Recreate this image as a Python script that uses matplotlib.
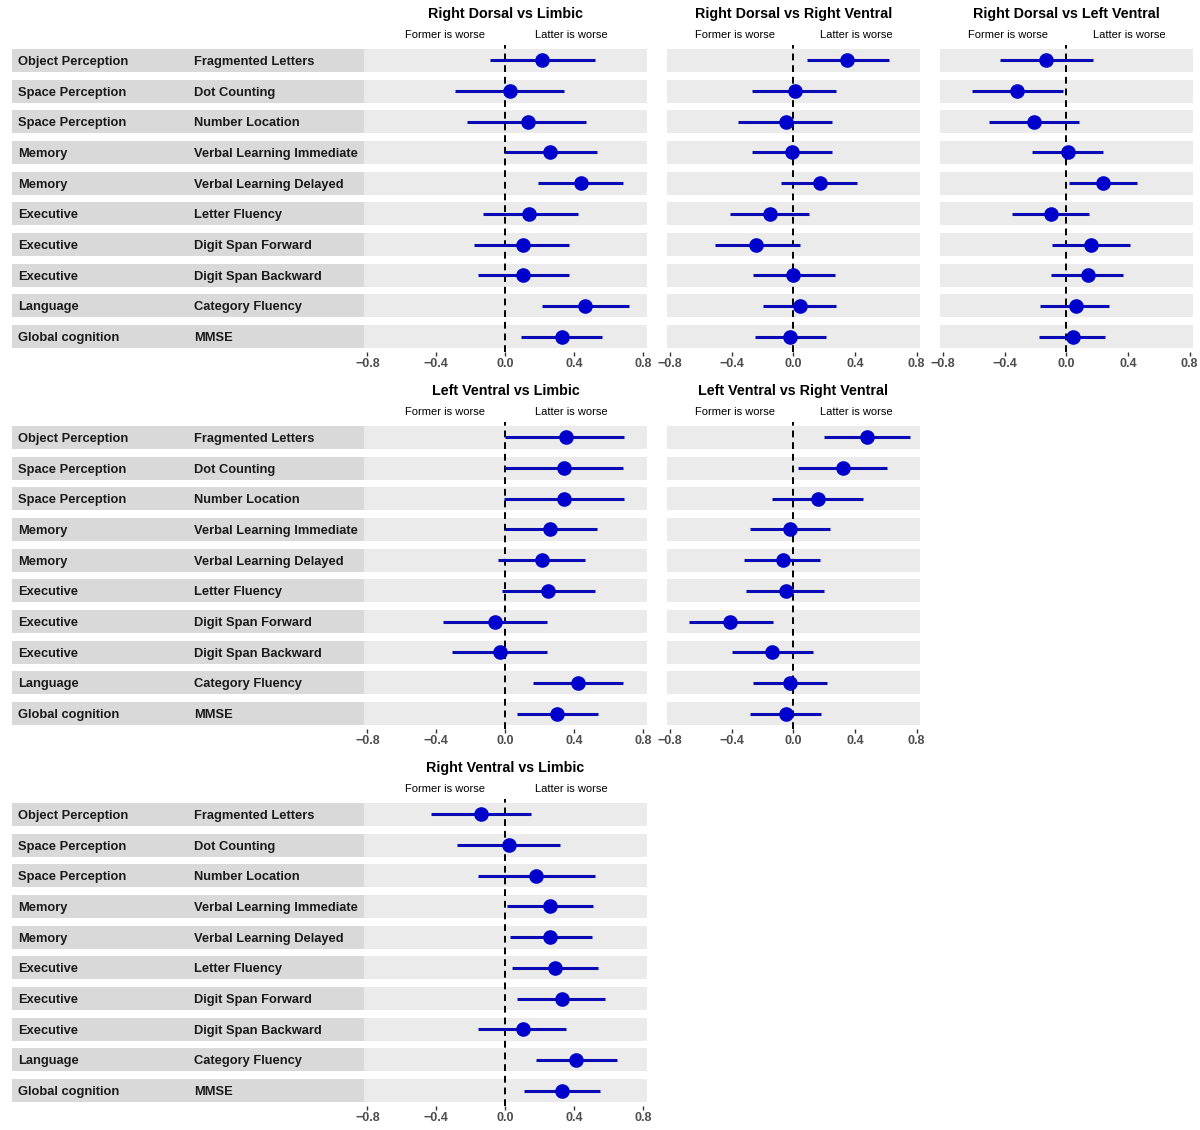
import matplotlib
matplotlib.use("Agg")
import matplotlib.pyplot as plt

plt.rcParams['font.family'] = ['Liberation Sans', 'DejaVu Sans']

# test rows, top to bottom
domains = ["Object Perception", "Space Perception", "Space Perception", "Memory",
           "Memory", "Executive", "Executive", "Executive", "Language",
           "Global cognition"]
tests = ["Fragmented Letters", "Dot Counting", "Number Location",
         "Verbal Learning Immediate", "Verbal Learning Delayed", "Letter Fluency",
         "Digit Span Forward", "Digit Span Backward", "Category Fluency", "MMSE"]

# estimates with lower / upper interval, one list per comparison
rd_limbic = [0.21, 0.03, 0.13, 0.26, 0.44, 0.14, 0.10, 0.10, 0.46, 0.33]
rd_limbic_lo = [-0.09, -0.29, -0.22, 0.00, 0.19, -0.13, -0.18, -0.16, 0.21, 0.09]
rd_limbic_hi = [0.52, 0.34, 0.47, 0.53, 0.68, 0.42, 0.37, 0.37, 0.72, 0.56]

rd_rv = [0.35, 0.01, -0.05, -0.01, 0.17, -0.15, -0.24, 0.00, 0.04, -0.02]
rd_rv_lo = [0.09, -0.27, -0.36, -0.27, -0.08, -0.41, -0.51, -0.26, -0.20, -0.25]
rd_rv_hi = [0.62, 0.28, 0.25, 0.25, 0.41, 0.10, 0.04, 0.27, 0.28, 0.21]

rd_lv = [-0.13, -0.32, -0.21, 0.01, 0.24, -0.10, 0.16, 0.14, 0.06, 0.04]
rd_lv_lo = [-0.43, -0.61, -0.50, -0.22, 0.02, -0.35, -0.09, -0.10, -0.17, -0.18]
rd_lv_hi = [0.17, -0.02, 0.08, 0.24, 0.46, 0.15, 0.41, 0.37, 0.28, 0.25]

lv_limbic = [0.35, 0.34, 0.34, 0.26, 0.21, 0.25, -0.06, -0.03, 0.42, 0.30]
lv_limbic_lo = [0.00, 0.00, -0.01, 0.00, -0.04, -0.02, -0.36, -0.31, 0.16, 0.07]
lv_limbic_hi = [0.69, 0.68, 0.69, 0.53, 0.46, 0.52, 0.24, 0.24, 0.68, 0.54]

lv_rv = [0.48, 0.32, 0.16, -0.02, -0.07, -0.05, -0.41, -0.14, -0.02, -0.05]
lv_rv_lo = [0.20, 0.03, -0.14, -0.28, -0.32, -0.31, -0.68, -0.40, -0.26, -0.28]
lv_rv_hi = [0.76, 0.61, 0.45, 0.24, 0.17, 0.20, -0.13, 0.13, 0.22, 0.18]

rv_limbic = [-0.14, 0.02, 0.18, 0.26, 0.26, 0.29, 0.33, 0.10, 0.41, 0.33]
rv_limbic_lo = [-0.43, -0.28, -0.16, 0.01, 0.03, 0.04, 0.07, -0.16, 0.18, 0.11]
rv_limbic_hi = [0.15, 0.32, 0.52, 0.51, 0.50, 0.54, 0.58, 0.35, 0.65, 0.55]

xticks = [-0.8, -0.4, 0.0, 0.4, 0.8]
xtick_labels = ["\u22120.8", "\u22120.4", "0.0", "0.4", "0.8"]

W, H = 1200, 1130
fig = plt.figure(figsize=(W / 100, H / 100), dpi=100)


def px_axes(left, top, right, bottom):
    return fig.add_axes([left / W, 1 - bottom / H, (right - left) / W, (bottom - top) / H])


def label_panel(top, bottom):
    ax = px_axes(12, top, 364, bottom)
    ax.set_xlim(0, 1)
    ax.set_ylim(len(tests) - 0.5, -0.5)
    for i in range(len(tests)):
        ax.axhspan(i - 0.375, i + 0.375, color="#d9d9d9", lw=0)
        ax.text(6 / 352, i, domains[i], fontsize=9.3, fontweight="bold",
                color="#1a1a1a", va="center_baseline", ha="left")
        ax.text(182 / 352, i, tests[i], fontsize=9.3, fontweight="bold",
                color="#1a1a1a", va="center_baseline", ha="left")
    ax.axis("off")


def forest_panel(left, right, top, bottom, title, est, lo, hi):
    ax = px_axes(left, top, right, bottom)
    ax.set_xlim(-0.82, 0.822)
    ax.set_ylim(len(tests) - 0.5, -0.5)
    for i in range(len(tests)):
        ax.axhspan(i - 0.375, i + 0.375, color="#ebebeb", lw=0, zorder=0)
    ax.axvline(0, color="black", lw=1.4, ls=(0, (3.5, 2.5)), zorder=1)
    ypos = list(range(len(tests)))
    ax.hlines(ypos, lo, hi, color="#0a0ab4", lw=2.2, zorder=2)
    ax.plot(est, ypos, "o", color="#0000cd", ms=9.5, mec="#0000cd", zorder=3)
    ax.set_xticks(xticks)
    ax.set_xticklabels(xtick_labels, fontsize=9, fontweight="bold", color="#4d4d4d")
    ax.tick_params(axis="x", length=3, width=1, color="#333333", pad=1.5)
    ax.set_yticks([])
    for s in ax.spines.values():
        s.set_visible(False)
    ax.set_title(title, fontsize=10.3, fontweight="bold", pad=19.5)
    ax.text(-0.12, -0.86, "Former is worse", fontsize=8, ha="right", va="center_baseline")
    ax.text(0.175, -0.86, "Latter is worse", fontsize=8, ha="left", va="center_baseline")
    return ax


cols = [(364, 647), (667, 920), (940, 1193)]
rows = [(45, 352), (422, 729), (799, 1106)]

label_panel(*rows[0])
forest_panel(*cols[0], *rows[0], "Right Dorsal vs Limbic", rd_limbic, rd_limbic_lo, rd_limbic_hi)
forest_panel(*cols[1], *rows[0], "Right Dorsal vs Right Ventral", rd_rv, rd_rv_lo, rd_rv_hi)
forest_panel(*cols[2], *rows[0], "Right Dorsal vs Left Ventral", rd_lv, rd_lv_lo, rd_lv_hi)

label_panel(*rows[1])
forest_panel(*cols[0], *rows[1], "Left Ventral vs Limbic", lv_limbic, lv_limbic_lo, lv_limbic_hi)
forest_panel(*cols[1], *rows[1], "Left Ventral vs Right Ventral", lv_rv, lv_rv_lo, lv_rv_hi)

label_panel(*rows[2])
forest_panel(*cols[0], *rows[2], "Right Ventral vs Limbic", rv_limbic, rv_limbic_lo, rv_limbic_hi)

fig.savefig("out.png", dpi=100)
